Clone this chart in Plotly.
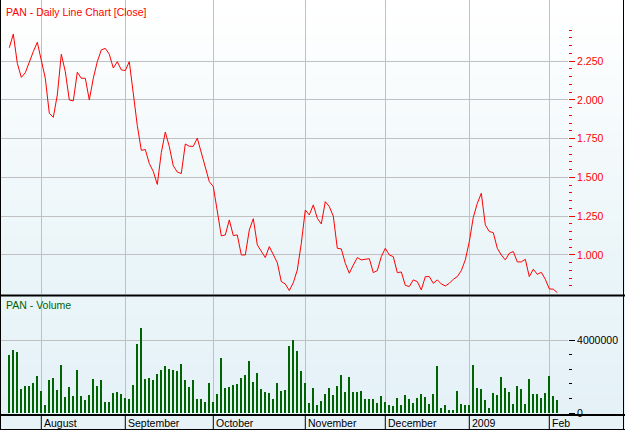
import pandas as pd
import plotly.graph_objects as go

# ---------------- data ----------------
holidays = ["2008-12-25", "2008-12-26", "2009-01-01", "2009-01-26"]
dates = [d.strftime("%Y-%m-%d") for d in pd.bdate_range("2008-07-22", "2009-02-04")
         if d.strftime("%Y-%m-%d") not in holidays]

close = [2.337, 2.425, 2.237, 2.146, 2.176, 2.247, 2.312, 2.372, 2.247, 2.140,
         1.914, 1.888, 2.032, 2.295, 2.183, 2.000, 1.994, 2.179, 2.140, 2.140,
         2.000, 2.140, 2.247, 2.323, 2.333, 2.295, 2.206, 2.247, 2.194, 2.190,
         2.247, 2.040, 1.835, 1.675, 1.680, 1.590, 1.538, 1.455, 1.660, 1.793,
         1.699, 1.575, 1.535, 1.525, 1.716, 1.701, 1.701, 1.753, 1.660, 1.555,
         1.473, 1.441, 1.290, 1.123, 1.129, 1.226, 1.125, 1.129, 1.000, 1.000,
         1.161, 1.234, 1.065, 1.028, 0.983, 1.054, 1.004, 0.950, 0.828, 0.813,
         0.770, 0.821, 0.903, 1.075, 1.290, 1.258, 1.323, 1.237, 1.200, 1.344,
         1.312, 1.250, 1.043, 1.039, 0.946, 0.882, 0.935, 0.983, 0.968, 0.974,
         0.976, 0.886, 0.899, 0.989, 1.043, 1.000, 0.989, 0.886, 0.890, 0.804,
         0.796, 0.839, 0.828, 0.774, 0.860, 0.860, 0.817, 0.839, 0.813, 0.800,
         0.817, 0.843, 0.860, 0.899, 0.968, 1.086, 1.243, 1.333, 1.398, 1.194,
         1.151, 1.144, 1.043, 1.000, 0.968, 1.011, 1.022, 0.955, 0.955, 0.972,
         0.860, 0.908, 0.875, 0.888, 0.843, 0.781, 0.779, 0.757]

volume = [3210000, 3480000, 3340000, 1330000, 1460000, 1490000, 1640000, 2050000, 1220000, 440000,
          1820000, 1940000, 1240000, 2650000, 900000, 1440000, 940000, 2380000, 940000, 720000,
          1000000, 1880000, 1490000, 1820000, 610000, 610000, 1110000, 1160000, 1030000, 850000,
          770000, 1550000, 3820000, 4700000, 1880000, 1940000, 1790000, 2140000, 2380000, 2600000,
          2430000, 2340000, 2320000, 2710000, 1820000, 1440000, 1810000, 760000, 770000, 610000,
          1660000, 600000, 1050000, 3000000, 1400000, 1420000, 1550000, 1590000, 1920000, 2080000,
          2840000, 1730000, 2210000, 1330000, 1160000, 1120000, 770000, 1660000, 1200000, 1290000,
          3700000, 4040000, 3430000, 2290000, 1660000, 550000, 1380000, 440000, 660000, 1070000,
          1380000, 1000000, 1490000, 2100000, 1160000, 1970000, 1160000, 1160000, 1220000, 770000,
          770000, 770000, 550000, 940000, 610000, 440000, 390000, 830000, 440000, 1000000,
          770000, 550000, 830000, 1050000, 880000, 500000, 1050000, 2600000, 280000, 440000,
          170000, 170000, 1220000, 500000, 440000, 440000, 2650000, 1380000, 1330000, 720000,
          280000, 1110000, 1000000, 1990000, 1380000, 1160000, 500000, 1490000, 1330000, 500000,
          1880000, 1050000, 1050000, 830000, 1110000, 2050000, 940000, 720000]

month_labels = ["August", "September", "October", "November", "December", "2009", "Feb"]
price_ticks = [1.0, 1.25, 1.5, 1.75, 2.0, 2.25]
price_minor = [round(0.80 + 0.05 * k, 2) for k in range(34)]
volume_ticks = [0, 4000000]
volume_minor = [800000, 1600000, 2400000, 3200000]

n = min(len(dates), len(close), len(volume))
dates, close, volume = dates[:n], close[:n], volume[:n]

month_idx = [i for i in range(1, n) if dates[i][5:7] != dates[i - 1][5:7]]
month_vals = [dates[i] for i in month_idx]

# ---------------- styling ----------------
FONT = "Arial, 'Liberation Sans', sans-serif"
RED = "#ff0000"
GREEN = "#006400"
GRID = "#c0c0c0"
W, H = 625, 430
ML, MR, MT, MB = 1, 57, 0, 16
PH = H - MT - MB          # plot height in px (414)
PW = W - ML - MR

def py(px):               # pixel y (from top) -> paper y
    return (PH - px) / PH

def pxx(px):              # pixel x -> paper x
    return (px - ML) / PW

fig = go.Figure()
fig.add_trace(go.Scatter(x=dates, y=close, mode="lines", xaxis="x2", yaxis="y",
                         line=dict(color=RED, width=1), hoverinfo="x+y"))
fig.add_trace(go.Bar(x=dates, y=volume, xaxis="x", yaxis="y2", width=0.3,
                     marker=dict(color=GREEN, line=dict(width=0))))

xrange = [-2.075, 139.675]
common_x = dict(type="category", range=xrange, tickmode="array", tickvals=month_vals,
                showticklabels=False, showgrid=True, gridcolor=GRID, gridwidth=1,
                ticks="", zeroline=False, showline=False, fixedrange=True)

shapes = []
# background gradients
def gradient(y_top, y_bot, c_top, c_bot, steps):
    for k in range(steps):
        t = k / (steps - 1) if steps > 1 else 0
        r = round(c_top[0] + (c_bot[0] - c_top[0]) * t)
        g = round(c_top[1] + (c_bot[1] - c_top[1]) * t)
        b = round(c_top[2] + (c_bot[2] - c_top[2]) * t)
        y0 = y_top + (y_bot - y_top) * k / steps
        y1 = y_top + (y_bot - y_top) * (k + 1) / steps
        shapes.append(dict(type="rect", xref="paper", yref="paper",
                           x0=pxx(0), x1=pxx(W), y0=py(y1 + 0.5), y1=py(y0),
                           fillcolor=f"rgb({r},{g},{b})", line=dict(width=0), layer="below"))

gradient(0, 294, (255, 255, 255), (232, 244, 248), 40)
gradient(296, 414, (234, 245, 249), (228, 241, 247), 12)
gradient(414, 430, (232, 243, 248), (232, 243, 248), 1)

def hline(ypx, x0px, x1px, width=1, color="black"):
    shapes.append(dict(type="line", xref="paper", yref="paper", x0=pxx(x0px), x1=pxx(x1px),
                       y0=py(ypx), y1=py(ypx), line=dict(color=color, width=width), layer="above"))

def vline(xpx, y0px, y1px, width=1, color="black"):
    shapes.append(dict(type="line", xref="paper", yref="paper", x0=pxx(xpx), x1=pxx(xpx),
                       y0=py(y0px), y1=py(y1px), line=dict(color=color, width=width), layer="above"))

hline(295.5, 0, W, 2)       # panel separator
hline(415, 0, W, 2)         # top of label band
hline(429.5, 0, W, 1)       # bottom border
vline(0.5, 0, H, 1)         # left border
vline(623.5, 0, H, 1)       # right border

for i in month_idx:         # month separators in label band
    shapes.append(dict(type="line", xref="x", yref="paper", x0=i, x1=i,
                       y0=py(430), y1=py(415), line=dict(color="black", width=1), layer="above"))

annotations = [
    dict(text="PAN - Daily Line Chart [Close]", xref="paper", yref="paper",
         x=pxx(4), y=py(12), xanchor="left", yanchor="middle", showarrow=False,
         font=dict(family=FONT, size=10.5, color=RED)),
    dict(text="PAN - Volume", xref="paper", yref="paper",
         x=pxx(4), y=py(305), xanchor="left", yanchor="middle", showarrow=False,
         font=dict(family=FONT, size=10.5, color=GREEN)),
]
for i, lab in zip(month_idx, month_labels):
    annotations.append(dict(text=lab, xref="x", yref="paper", x=i, y=py(422.5),
                            xanchor="left", yanchor="middle", xshift=1, showarrow=False,
                            font=dict(family=FONT, size=10.5, color="black")))

fig.update_layout(
    width=W, height=H, margin=dict(l=ML, r=MR, t=MT, b=MB, pad=0),
    paper_bgcolor="white", plot_bgcolor="rgba(0,0,0,0)",
    showlegend=False, bargap=0,
    font=dict(family=FONT, size=10.5, color="black"),
    xaxis=dict(anchor="y2", **common_x),
    xaxis2=dict(anchor="y", matches="x", **common_x),
    yaxis=dict(domain=[py(294), 1], anchor="x2", side="right", range=[0.748, 2.645],
               tickmode="array", tickvals=price_ticks, tickformat=".3f",
               ticks="outside", ticklen=6, tickwidth=1, tickcolor=RED,
               tickfont=dict(family=FONT, size=10.5, color=RED),
               minor=dict(tickmode="array", tickvals=price_minor, ticks="outside",
                          ticklen=3, tickwidth=1, tickcolor=RED, showgrid=False),
               showgrid=True, gridcolor=GRID, gridwidth=1, zeroline=False,
               showline=False, fixedrange=True),
    yaxis2=dict(domain=[0, py(297)], anchor="x", side="right", range=[-55000, 6380000],
                tickmode="array", tickvals=volume_ticks, tickformat="d",
                ticks="outside", ticklen=6, tickwidth=1, tickcolor="black",
                tickfont=dict(family=FONT, size=10.5, color="black"),
                minor=dict(tickmode="array", tickvals=volume_minor, ticks="outside",
                           ticklen=3, tickwidth=1, tickcolor="black", showgrid=False),
                showgrid=True, gridcolor=GRID, gridwidth=1, zeroline=False,
                showline=False, fixedrange=True),
    shapes=shapes, annotations=annotations,
)

fig.write_html("out.html", config={"displayModeBar": False},
               post_script="document.body.style.margin='0';document.body.style.overflow='hidden';")
